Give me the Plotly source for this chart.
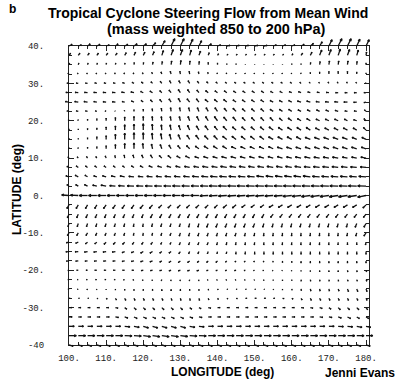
import math
import numpy as np
import plotly.graph_objects as go
import plotly.figure_factory as ff

# ---------------- data (2.5 deg grid) ----------------
LON = [100.0, 102.5, 105.0, 107.5, 110.0, 112.5, 115.0, 117.5, 120.0, 122.5,
       125.0, 127.5, 130.0, 132.5, 135.0, 137.5, 140.0, 142.5, 145.0, 147.5,
       150.0, 152.5, 155.0, 157.5, 160.0, 162.5, 165.0, 167.5, 170.0, 172.5,
       175.0, 177.5, 180.0]
LAT = [40.0, 37.5, 35.0, 32.5, 30.0, 27.5, 25.0, 22.5, 20.0, 17.5, 15.0,
       12.5, 10.0, 7.5, 5.0, 2.5, 0.0, -2.5, -5.0, -7.5, -10.0, -12.5, -15.0,
       -17.5, -20.0, -22.5, -25.0, -27.5, -30.0, -32.5, -35.0, -37.5, -40.0]

# zonal component (rows = LAT, cols = LON)
U = [
 [3,3,2.5,3,3,2.5,3,3,3,3, 3,3.5,3.5,3,2.5, 3,3,3,3,3,3,3,3,3,3,3,3, 2.5,3,3.5,3.5,3,3],
 [1.5,1.5,1.5,1.5,1.5,1.5,1.5,1.5,1.5,1.5, 1.5,2,2,1.5,1.5, 1,1,1,1,1,1,1,1,1,1,1.5,1.5, 2,2,2,2,1.5,0.5],
 [0.5,0.5,0.5,0.5,0.3,0.3,0.3,0.3,0.3,0.5, 0.5,0.5,0.5,0.3,0.3, 0,0,0,0,0,0,0,0,0,0,0,0.3, 0.5,0.5,0.5,0.5,0.3,0],
 [-1,-0.8,-0.8,-0.8,-0.8,-0.8,-0.8,-0.8,-0.8,-0.8, -0.8,-0.8,-0.5,-0.5,-0.5, -0.5,-0.5,-0.5,-0.5,-0.5,-0.5,-0.5,-0.5,-0.5,-0.5,-0.3,0, 0,0,0,0,0,0],
 [-2,-2,-2,-2,-2,-2,-2,-1.8,-1.8,-1.5, -1.5,-1.5,-1.5,-1.5,-1.5, -1.5,-1.5,-1.5,-1.5,-1.5,-1.5,-1.5,-1.5,-1.5,-1.5,-1.2,-1, -0.8,-0.8,-0.8,-0.8,-0.8,-0.5],
 [-3,-3,-3,-3,-3,-3,-3,-3,-2.5,-2.5, -2,-2,-2,-2,-2, -2.5,-2.5,-2.5,-2.5,-2.5,-2.5,-2.5,-2.5,-2.5,-2.5,-2.5,-2.5, -2.5,-2.5,-2.5,-2.5,-2.5,-2],
 [-3.5,-3.5,-3.5,-3,-3,-3,-2.5,-2.5,-2,-2, -2,-2,-2,-2.5,-2.5, -3,-3,-3,-3,-3,-3,-3,-3,-3,-3,-3.5,-3.5, -3.5,-3.5,-3.5,-3.5,-3,-2],
 [-2,-2,-2,-1.5,-1,-0.5,-0.3,0,0,-0.3, -0.5,-0.5,-0.8,-1,-1.5, -2,-2.5,-2.5,-3,-3,-3,-3,-3,-3,-3,-3,-3, -3,-3,-3,-2.5,-2.5,-1.5],
 [-0.5,-0.3,0,0,0,0,0,0,0,-0.3, -0.5,-0.8,-1,-1.5,-2, -2.5,-3,-3,-3,-3,-3,-3,-3,-3,-3.5,-3.5,-3.5, -3.5,-3.5,-3.5,-3,-3,-2],
 [0,0,0,0,0,0,0,0,0,-0.3, -0.5,-1,-1.5,-2,-2.5, -3,-3,-3.5,-3.5,-3.5,-3.5,-3.5,-4,-4,-4,-4,-4, -4,-4,-4,-4,-3.5,-2.5],
 [0,0,0,0,0,0,0,0,0,-0.5, -1,-1.5,-2,-2.5,-3, -3.5,-3.5,-4,-4,-4,-4,-4,-4.5,-4.5,-4.5,-4.5,-5, -5,-5,-5,-5,-4.5,-4],
 [-0.3,-0.3,0,0,0,0,0,0,-0.5,-1, -1.5,-2,-2.5,-3,-3.5, -4,-4,-4,-4.5,-4.5,-4.5,-4.5,-4.5,-5,-5,-5,-5, -5,-5,-5,-5,-5,-4.5],
 [-1,-1,-1,-1,-0.8,-0.5,-0.5,-1,-1.5,-2, -2.5,-3,-3.5,-4,-4, -4.5,-4.5,-5,-5,-5,-5,-5,-5,-5,-5,-5.5,-5.5, -5.5,-5.5,-5.5,-5,-5,-5],
 [-2,-2,-2,-2,-2,-2,-2,-2.5,-3,-3.5, -4,-4,-4.5,-5,-5, -5.5,-5.5,-6,-6,-6,-6,-6,-6,-6,-6,-6,-6, -6,-6,-6,-6,-6,-5.5],
 [-3,-3,-2.5,-3,-3.5,-4,-4.5,-5,-5,-5.5, -5.5,-6,-6,-6,-6.5, -6.5,-7,-7,-7,-7,-7,-7,-7,-7,-7,-7,-7, -7,-7,-7,-7,-7,-7],
 [-2,-2.5,-3,-4,-5,-5.5,-6,-6.5,-6.5,-7, -7,-7,-7.5,-7.5,-7.5, -7.5,-8,-8,-8,-8,-8,-8,-8,-8,-8,-8,-8, -8,-8,-8,-8,-8,-8],
 [-7,-7.5,-8,-8,-8,-8,-8,-8,-8,-8, -8,-8,-8,-8,-8, -8,-8,-8,-8,-8,-8,-8,-8,-8,-8.5,-8.5,-8.5, -8.5,-8.5,-8.5,-8.5,-8.5,-8],
 [-2,-2,-2,-2,-2.5,-2.5,-2.5,-2.5,-3,-3, -3,-3,-3,-3,-3, -3,-3,-3.5,-3.5,-3.5,-3.5,-3.5,-4,-4,-4,-4,-4, -4,-4,-4,-4,-4,-3],
 [-1.5,-1.5,-1.5,-1.5,-1.5,-1.5,-1.5,-1.5,-1.5,-2, -2,-2,-2,-2,-2, -2,-2,-2,-2,-2,-2,-2,-2.5,-2.5,-2.5,-2.5,-2.5, -2.5,-2.5,-2.5,-2.5,-2.5,-2.5],
 [-1,-1,-1,-1,-1,-1,-0.8,-0.5,-0.5,-0.8, -1,-1,-1,-1,-1, -1.5,-1.5,-1.5,-1.5,-1.5,-1.5,-1.2,-1,-1,-1,-1,-1, -1,-1,-1,-1,-1.5,-2],
 [-1.5,-1.5,-1.5,-1.2,-1,-1,-0.8,-0.5,-0.3,-0.5, -0.8,-1,-1,-1,-1, -1,-1,-1,-1,-0.8,-0.5,-0.3,-0.3,-0.2,-0.2,-0.2,-0.2, -0.2,-0.2,-0.3,-0.5,-1,-2],
 [-2.5,-2.5,-2,-2,-2,-2,-2,-1.5,-1.5,-1.5, -1,-1,-1,-1,-1, -1,-0.8,-0.5,-0.5,-0.3,-0.3,-0.2,-0.2,-0.2,-0.2,-0.2,-0.2, -0.2,-0.2,-0.2,0,0,-0.5],
 [-3,-3,-3,-3,-3,-3,-2.5,-2.5,-2.5,-2.5, -2,-2,-1.5,-1,-1, -0.8,-0.5,-0.5,-0.3,-0.2,0,0,0,0,0,0,0, 0,0,0,0,0,0],
 [-2.5,-2.5,-2.5,-2.5,-2.5,-2.5,-2.5,-2.5,-2.5,-2.5, -2,-2,-2,-2,-1.5, -1.5,-1.5,-1.2,-1,-1,-0.8,-0.5,-0.3,0,0,0,0, 0,0,0,0,0,0],
 [-1,-1.5,-1.5,-2,-2,-2,-2,-2,-2,-2, -2,-2,-2,-2,-2, -1.5,-1.5,-1.5,-1.5,-1.2,-1,-1,-0.8,-0.5,-0.3,0,0, 0,0,0,0.3,0.3,0.5],
 [-1,-1,-1.2,-1.2,-1.2,-1.2,-1.2,-1,-0.8,-0.5, -0.5,-0.3,-0.3,-0.3,-0.3, -0.8,-0.8,-0.8,-0.8,-0.8,-0.5,-0.3,0,0,0,0.2,0.3, 0.3,0.3,0.3,0.5,0.5,0.8],
 [-0.8,-0.8,-0.5,-0.3,0,0,0,0,0,0, 0,0,0,0,0, 0.3,0.5,0.8,0.8,0.8,0.8,0.5,0.3,0,0.3,0.3,0.5, 0.5,0.5,0.8,1,1,1],
 [1,1,1,1,1,1,1,1,1,1, 1,0.8,0.5,0.5,0.5, 0.5,0.8,1,1.2,1.5,1.5,1.5,1.5,1.5,1.2,1,1, 1,1,1,1,1,1],
 [2.5,2.5,2.5,2.5,2.5,2.5,2,2,2,2, 2,2,2,2,2, 2.5,2.5,2.5,2.5,2.5,2.5,2.5,2.5,2.5,2.5,2.5,2.5, 2.5,2,2,2,2,1.5],
 [3,3,3,3,3,3,3,3,3,3, 3,3,3,3,3, 3,3,3,3,3,3,3,3,3,3,3,3, 3,3,3,3,2.5,2.5],
 [5,5,5,5,5,5,5,5,5,5, 5,5,5,5,5, 5,5,5,5,5,5,5,5,5,5,5,5, 5,5,5,5,5,4.5],
 [7,7,7,7,7,7,7,7,7,7, 7,7,7,7,7, 7,7,7,7,7,7,7,7,7,7,7,7, 7,7,7,7,7,6.5],
 [4,4,4,4,4,4,4,4,4,4, 4,4,4,4,4, 4,4,4,4,4,4,4,4,4,4,4,4, 4,4,4,4,4,4],
]

# meridional component (rows = LAT, cols = LON)
V = [
 [1.5,1,2,1.5,1,2,1.5,2,2,3, 5,7,7,6.5,5, 2,1,0.5,0.5,0.5,0.5,0.5,1,1,1,1.5,2.5, 4,6,7,7,6.5,6],
 [2,2,2,2,2,2,2.5,3,3,3.5, 4.5,5.5,5.5,5,4, 2.5,1.5,1,1,1,1,1,1,1,1.5,2,3, 5,5.5,6,5.5,5,3],
 [1.5,1.5,1.5,1.5,1.5,1.5,1.5,2,2,2.5, 3,3.5,4,3.5,3, 2,1.5,1,1,0.5,0.5,0.5,0.5,0.5,0.8,1,2, 3,3.5,3.5,3.5,3,1.5],
 [0.8,0.8,0.8,0.8,0.8,1,1,1,1.2,1.5, 2,2.5,2.5,2.5,2, 1.5,1,1,0.8,0.8,0.8,0.8,0.8,0.8,0.8,1,1.5, 2,2.5,2.5,2.5,2,1],
 [0.3,0.3,0.3,0.5,0.5,0.5,0.8,1,1.2,1.5, 2,2.5,2.5,2.5,2, 1.5,1.2,1,1,1,1,1,1,1,1,1,1, 1,1.2,1.2,1.2,1,0.5],
 [0.3,0.3,0.3,0.3,0.3,0.3,0.5,0.8,1.2,1.5, 2,2.5,3,3,2.5, 2,1.8,1.8,1.5,1.5,1.5,1.5,1.2,1.2,1,1,0.8, 0.5,0.3,0,0,0,0],
 [0.5,0.5,0.5,0.5,0.3,0.3,0.5,1,1.5,2, 2.5,3,3.5,3,3, 2.5,2.5,2.5,2,2,2,2,1.5,1.5,1.5,1,1, 0.5,0.3,0.3,0,-0.3,-0.5],
 [0.5,0.5,0.5,0.5,0.5,0.5,1,1.5,2,2.5, 3,3.5,3.5,3.5,3.5, 3.5,3.5,3,3,2.5,2.5,2.5,2,2,2,1.5,1.5, 1.5,1.2,1,0.5,0.5,1.5],
 [1,1,1.5,2,2.5,3,3.5,4,4,4, 4,4,4,4,4, 4,4,3.5,3.5,3,3,3,3,2.5,2.5,2,2, 1.5,1.5,1.5,1.5,1,2],
 [1,1,1.5,2,3,4,5,5.5,6,5.5, 5,5,4.5,4.5,4, 4,3.5,3.5,3,3,3,3,3,2.5,2.5,2.5,2.5, 2,2,2,2,2,2.5],
 [1,1,1.5,2.5,3.5,5,6,6.5,6.5,6, 5.5,5,4.5,4,4, 3.5,3.5,3,3,3,3,3,2.5,2.5,2.5,2.5,2, 2,2,2,2,2,2],
 [1,1,1.5,2,3,4,5,5.5,5,4.5, 4,3.5,3,3,2.5, 2.5,2.5,2.5,2,2,2,2,2,1.5,1.5,1.5,1.5, 1.5,1.5,1.5,1.5,1.5,1.5],
 [1.2,1.2,1.5,1.5,2,2.5,3,3,3,3, 2.5,2.5,2,2,1.5, 1.5,1.5,1.5,1.5,1.5,1.5,1.5,1.5,1.5,1.2,1.2,1.2, 1,1,1,1,1,1],
 [1,1.5,1.5,1.5,1.5,1.5,1.5,1.5,1.5,1.5, 1.2,1.2,1.2,1,1, 1,1,1,1,1,1,1,1,1,1,1,0.8, 0.8,0.8,0.8,0.8,0.5,0.5],
 [1,1.5,1.5,1,1,0.8,0.8,0.5,0.5,0.5, 0.5,0.5,0.5,0.5,0.5, 0.5,0.5,0.5,0.5,0.5,0.5,0.8,0.8,0.8,0.8,0.8,0.8, 0.5,0.5,0.5,0.5,0.5,0.5],
 [1.5,1.5,1.5,1,1,0.5,0.5,0.3,0.3,0.3, 0.3,0.3,0.3,0.3,0.3, 0.3,0.3,0.3,0.3,0.3,0.3,0.3,0.3,0.3,0.3,0.3,0.3, 0.3,0.3,0.3,0.3,0.3,0.3],
 [0.5,0.3,0,0,0,0,0,0,0,0, 0,0,0,0,0, -0.3,-0.3,-0.5,-0.5,-0.5,-0.5,-0.5,-0.5,-0.5,-0.8,-0.8,-1, -1,-1,-1.2,-1.2,-1.2,-1.5],
 [-3.5,-3.5,-3.5,-3.5,-3.5,-3.5,-3.5,-3.5,-3.5,-3.5, -3,-3,-3,-3,-3, -3,-3,-3,-3,-2.5,-2.5,-2.5,-2.5,-2.5,-2.5,-2.5,-2.5, -2.5,-2.5,-2.5,-2.5,-2.5,-3],
 [-3.5,-3.5,-3.5,-3.5,-3.5,-3.5,-3.5,-3.5,-3.5,-3.5, -3.5,-3.5,-3.5,-3.5,-3.5, -3.5,-3.5,-3.5,-3.5,-3.5,-3.5,-3.5,-3,-3,-3,-3,-3, -3,-3,-3,-3,-3,-3],
 [-3,-3,-3,-3,-3,-3,-3,-3,-3,-3, -3,-3,-3,-3.5,-3.5, -3.5,-3.5,-3.5,-3.5,-3.5,-3.5,-3.5,-3.5,-3.5,-3.5,-3.5,-3.5, -3.5,-3.5,-3.5,-3.5,-3.5,-3.5],
 [-2.5,-2.5,-2.5,-2.5,-2.5,-2.5,-2.5,-2.5,-2.5,-2.5, -2.5,-2.5,-3,-3,-3, -3,-3,-3,-3,-3,-3,-3,-3,-3,-3,-3,-3, -3,-3,-3,-3,-3,-3],
 [-0.5,-1,-1.5,-1.5,-2,-2,-2,-2,-2,-2, -2,-2,-2.5,-2.5,-2.5, -2.5,-2.5,-2.5,-2.5,-2.5,-2.5,-2.5,-2.5,-2.5,-2.5,-2.5,-2.5, -2.5,-2.5,-2.5,-2.5,-2.5,-2.5],
 [-0.3,-0.3,-0.5,-0.5,-0.5,-0.5,-1,-1,-1.5,-1.5, -1.5,-1.5,-2,-2,-2, -2,-2,-2,-2.5,-2.5,-2.5,-2.5,-2.5,-2.5,-2.5,-2.5,-2.5, -2.5,-2.5,-2.5,-2.5,-2.5,-2.5],
 [-0.3,-0.3,-0.3,-0.3,-0.3,-0.3,-0.5,-0.5,-0.8,-1, -1.2,-1.5,-1.5,-1.5,-1.5, -1.5,-1.5,-1.2,-1,-1,-1,-1,-1.2,-1.5,-1.5,-2,-2, -2,-2,-2,-2,-2,-2],
 [-0.3,0,0,0,0,0,0,0,-0.3,-0.3, -0.3,-0.5,-0.5,-0.5,-0.5, -0.3,-0.3,-0.3,-0.3,-0.3,-0.3,-0.3,-0.5,-0.5,-0.8,-1,-1.2, -1.5,-1.5,-1.5,-1.5,-1.5,-1.5],
 [0,0,0,0,0,0,-0.3,-0.5,-0.8,-1, -1.2,-1.2,-1.2,-1.2,-1.2, -0.5,-0.5,-0.5,-0.5,-0.5,-0.6,-0.8,-0.8,-1,-1.2,-1.5,-1.5, -1.5,-1.5,-1.5,-1.5,-1.5,-1.5],
 [-0.5,-0.5,-0.8,-0.8,-0.8,-1,-1.2,-1.5,-1.5,-1.5, -1.8,-1.8,-1.8,-1.5,-1.5, -1.2,-0.8,-0.5,-0.5,-0.5,-0.5,-0.5,-0.8,-1,-1.2,-1.5,-2, -2,-2,-2,-2.5,-2.5,-2.5],
 [0,0,0,-0.3,-0.8,-1.5,-2,-2,-2,-2, -2,-2,-2,-2,-2, -1.5,-1,-0.5,-0.3,0,0,0,0,-0.3,-0.8,-1.5,-2, -2,-2,-2,-2,-2,-2],
 [0,0,0,0,0,-0.5,-1.5,-2,-2,-2, -2,-2,-2,-1.5,-1, -0.5,0,0,0,0,0,0,0,0,0,-0.3,-0.5, -0.8,-1.5,-2,-2,-2,-2],
 [0,0,0,0,0,-0.5,-1,-1.5,-1.5,-1.5, -1.5,-1.5,-1.5,-1,-0.5, 0,0,0,0,0,0,0,0,0,0,0,0, -0.3,-0.5,-1,-1.5,-1.5,-1.5],
 [0,0,0,0,0,0,-0.5,-1,-1.5,-1.5, -1.5,-1.5,-1.5,-1,-0.5, 0,0,0,0,0,0,0,0,0,0,0,0, 0,0,-0.3,-0.5,-1,-1],
 [0,0,0,0,0,0,-0.3,-0.5,-1,-1, -1,-1,-0.8,-0.5,-0.3, 0,0,0,0,0,0,0,0,0,0,0,0, 0,0,0,0,0,0],
 [-1,-1,-1,-1,-1,-1,-1,-1,-1,-1, -1,-1,-1,-1,-1, -1,-1,-1,-1,-1,-1,-1,-1,-1,-1,-1,-1, -1,-1,-1,-1,-1,-1],
]

X_TICKS = [100, 110, 120, 130, 140, 150, 160, 170, 180]
X_TICK_TEXT = ["100.", "110.", "120.", "130.", "140.", "150.", "160.", "170.", "180."]
Y_TICKS = [40, 30, 20, 10, 0, -10, -20, -30, -40]
Y_TICK_TEXT = ["40.", "30.", "20.", "10.", "0.", "-10.", "-20.", "-30.", "-40"]

# sanity check on shapes
bad = [(i, len(U[i]), len(V[i])) for i in range(len(LAT)) if len(U[i]) != len(LON) or len(V[i]) != len(LON)]
if len(U) != len(LAT) or len(V) != len(LAT) or bad:
    raise SystemExit("shape problem: %d %d %s" % (len(U), len(V), bad))

# ---------------- layout geometry ----------------
W, H = 400, 380
FX0, FX1 = 69, 369      # frame left/right (px)
FY0, FY1 = 46, 345      # frame top/bottom (px)
XR = [100.0, 180.8]
YR = [-40.0, 40.0]
ppx = (FX1 - FX0) / (XR[1] - XR[0])
ppy = (FY1 - FY0) / (YR[1] - YR[0])
PAD = 28

xg, yg = np.meshgrid(LON, LAT)
q = ff.create_quiver(xg.ravel(), yg.ravel(),
                     np.array(U, dtype=float).ravel(), np.array(V, dtype=float).ravel(),
                     scale=0.28, arrow_scale=0.32, angle=math.pi / 8,
                     line=dict(color="#111111", width=1.3))
tr = q.data[0]
tr.update(xaxis="x2", yaxis="y2", showlegend=False, hoverinfo="skip")

fig = go.Figure()
fig.add_trace(go.Scatter(x=[XR[0]], y=[YR[0]], mode="markers", marker=dict(size=1, opacity=0),
                         xaxis="x", yaxis="y", showlegend=False, hoverinfo="skip"))
fig.add_trace(tr)

tickfont = dict(family="Liberation Mono, DejaVu Sans Mono, monospace", size=9, color="#222")
sans = "Liberation Sans, Arial, sans-serif"

fig.update_layout(
    template="none",
    width=W, height=H, autosize=False,
    margin=dict(l=0, r=0, t=0, b=0, pad=0),
    paper_bgcolor="white", plot_bgcolor="rgba(0,0,0,0)",
    showlegend=False,
    xaxis=dict(domain=[FX0 / W, FX1 / W], range=XR, anchor="y", automargin=False,
               showline=True, linecolor="#222", linewidth=1.2, mirror="allticks",
               ticks="inside", ticklen=5, tickcolor="#222", tickwidth=1,
               tickmode="array", tickvals=X_TICKS, ticktext=X_TICK_TEXT, tickfont=tickfont,
               ticklabelstandoff=4,
               minor=dict(ticks="inside", ticklen=3, tickmode="linear", tick0=100, dtick=2.5,
                          tickcolor="#222", showgrid=False),
               showgrid=False, zeroline=False, fixedrange=True),
    yaxis=dict(domain=[1 - FY1 / H, 1 - FY0 / H], range=YR, anchor="x", automargin=False,
               showline=True, linecolor="#222", linewidth=1.2, mirror="allticks",
               ticks="inside", ticklen=5, tickcolor="#222", tickwidth=1,
               tickmode="array", tickvals=Y_TICKS, ticktext=Y_TICK_TEXT, tickfont=tickfont,
               ticklabelstandoff=22,
               minor=dict(ticks="inside", ticklen=3, tickmode="linear", tick0=-40, dtick=2.5,
                          tickcolor="#222", showgrid=False),
               showgrid=False, zeroline=False, fixedrange=True),
    xaxis2=dict(domain=[(FX0 - PAD) / W, (FX1 + PAD) / W], automargin=False,
                range=[XR[0] - PAD / ppx, XR[1] + PAD / ppx], anchor="y2",
                visible=False, fixedrange=True),
    yaxis2=dict(domain=[1 - (FY1 + PAD) / H, 1 - (FY0 - PAD) / H], automargin=False,
                range=[YR[0] - PAD / ppy, YR[1] + PAD / ppy], anchor="x2",
                visible=False, fixedrange=True),
)

ann = [
    dict(text="<b>b</b>", x=12 / W, y=1 - 9 / H, size=12),
    dict(text="<b>Tropical Cyclone Steering Flow from Mean Wind</b>", x=208 / W, y=1 - 13 / H, size=14),
    dict(text="<b>(mass weighted 850 to 200 hPa)</b>", x=216 / W, y=1 - 29 / H, size=14.5),
    dict(text="<b>LONGITUDE (deg)</b>", x=222 / W, y=1 - 372 / H, size=12),
    dict(text="<b>Jenni Evans</b>", x=360 / W, y=1 - 373 / H, size=12),
]
for a in ann:
    fig.add_annotation(text=a["text"], x=a["x"], y=a["y"], xref="paper", yref="paper",
                       xanchor="center", yanchor="middle", showarrow=False,
                       font=dict(family=sans, size=a["size"], color="black"))
fig.add_annotation(text="<b>LATITUDE (deg)</b>", x=17 / W, y=1 - 190 / H, xref="paper", yref="paper",
                   xanchor="center", yanchor="middle", showarrow=False, textangle=-90,
                   font=dict(family=sans, size=12, color="black"))

fig.write_html("out.html", config={"displayModeBar": False},
               post_script="document.body.style.margin='0';document.body.style.padding='0';"
                           "document.body.style.overflow='hidden';")
